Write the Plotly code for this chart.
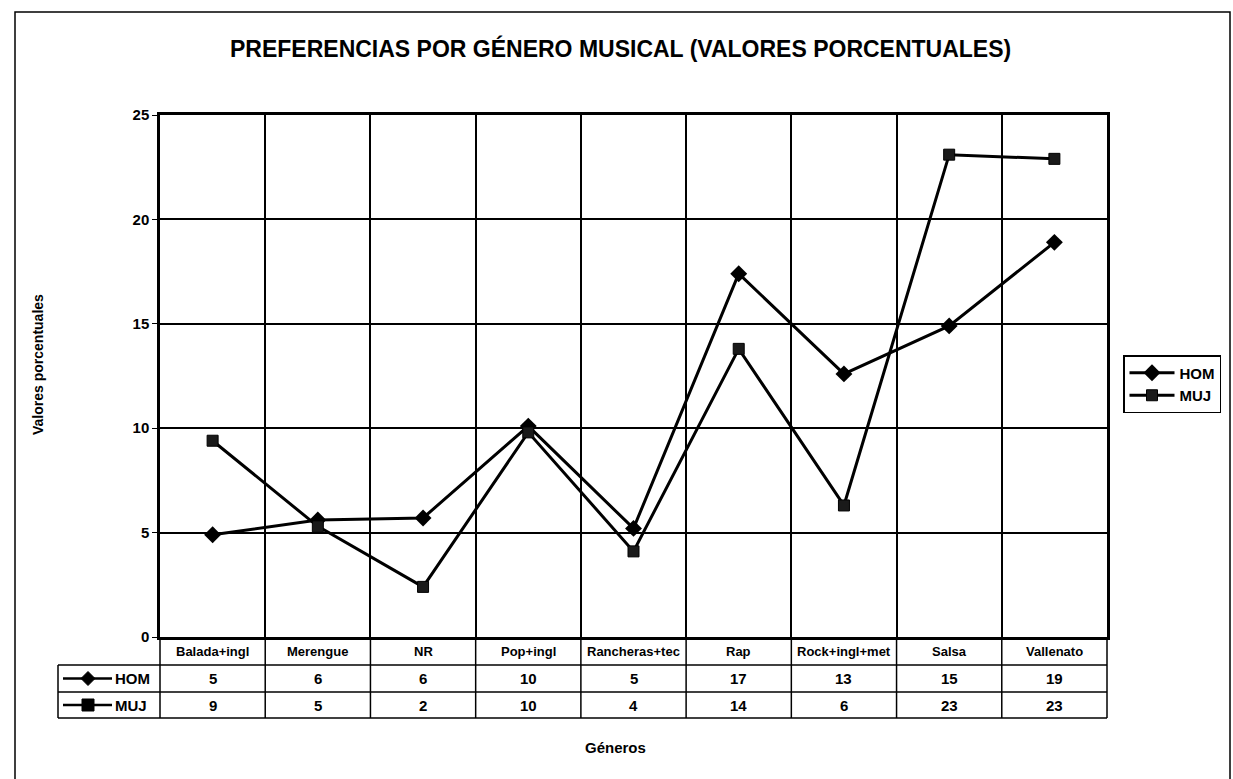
import plotly.graph_objects as go

generos = ["Balada+ingl", "Merengue", "NR", "Pop+ingl", "Rancheras+tec",
           "Rap", "Rock+ingl+met", "Salsa", "Vallenato"]
hom = [4.9, 5.6, 5.7, 10.1, 5.2, 17.4, 12.6, 14.9, 18.9]
muj = [9.4, 5.3, 2.4, 9.8, 4.1, 13.8, 6.3, 23.1, 22.9]
y_ticks = [0, 5, 10, 15, 20, 25]

W, H = 1233, 779
L, R, T, B = 160, 126, 115, 142
PW, PH = W - L - R, H - T - B


def px(x):
    return (x - L) / PW


def py(y):
    return (H - B - y) / PH


FONT = "Liberation Sans, Arial, sans-serif"
NARROW = "Liberation Sans Narrow, Arial Narrow, Liberation Sans, sans-serif"

fig = go.Figure()
fig.add_trace(go.Scatter(
    x=generos, y=hom, name="HOM", mode="lines+markers",
    line=dict(color="black", width=3),
    marker=dict(symbol="diamond", size=13, color="black"),
))
fig.add_trace(go.Scatter(
    x=generos, y=muj, name="MUJ", mode="lines+markers",
    line=dict(color="black", width=3),
    marker=dict(symbol="square", size=11, color="#1a1a1a", line=dict(color="black", width=1)),
))

shapes = []
n = len(generos)
row_y = [637, 665, 692, 718]
# table grid under the plot
for i in range(n + 1):
    shapes.append(dict(type="line", xref="paper", yref="paper",
                       x0=i / n, x1=i / n, y0=py(row_y[0]), y1=py(row_y[-1]),
                       line=dict(color="black", width=1.5)))
for yy in row_y[1:]:
    shapes.append(dict(type="line", xref="paper", yref="paper",
                       x0=px(58), x1=1, y0=py(yy), y1=py(yy),
                       line=dict(color="black", width=1.5)))
shapes.append(dict(type="line", xref="paper", yref="paper",
                   x0=px(58), x1=px(58), y0=py(row_y[1]), y1=py(row_y[-1]),
                   line=dict(color="black", width=1.5)))

# legend keys inside the table
for yy, sym in [((row_y[1] + row_y[2]) / 2, "d"), ((row_y[2] + row_y[3]) / 2, "s")]:
    shapes.append(dict(type="line", xref="paper", yref="paper",
                       x0=px(63), x1=px(112), y0=py(yy), y1=py(yy),
                       line=dict(color="black", width=2.5)))
    cx, cy = 88, yy
    if sym == "d":
        path = (f"M {px(cx - 7)},{py(cy)} L {px(cx)},{py(cy - 7)} "
                f"L {px(cx + 7)},{py(cy)} L {px(cx)},{py(cy + 7)} Z")
    else:
        path = (f"M {px(cx - 6)},{py(cy - 6)} L {px(cx + 6)},{py(cy - 6)} "
                f"L {px(cx + 6)},{py(cy + 6)} L {px(cx - 6)},{py(cy + 6)} Z")
    shapes.append(dict(type="path", xref="paper", yref="paper", path=path,
                       fillcolor="black", line=dict(color="black", width=1)))

# outer chart border
shapes.append(dict(type="rect", xref="paper", yref="paper",
                   x0=px(15), x1=px(1230), y0=py(800), y1=py(12),
                   line=dict(color="black", width=1.5)))

annotations = []
mid = [(row_y[k] + row_y[k + 1]) / 2 for k in range(3)]
for g, h, m in zip(generos, hom, muj):
    for yy, txt, sz in [(mid[0], g, 13), (mid[1], f"{h:.0f}", 15), (mid[2], f"{m:.0f}", 15)]:
        annotations.append(dict(x=g, xref="x", y=py(yy), yref="paper",
                                xanchor="center", yanchor="middle",
                                text=f"<b>{txt}</b>", showarrow=False,
                                font=dict(family=NARROW, size=sz, color="black")))
for name, yy in [("HOM", mid[1]), ("MUJ", mid[2])]:
    annotations.append(dict(x=px(113), xref="paper", y=py(yy), yref="paper",
                            xanchor="left", yanchor="middle",
                            text=f"<b>{name}</b>", showarrow=False,
                            font=dict(family=NARROW, size=15, color="black")))

annotations += [
    dict(x=px(620), y=py(48), xref="paper", yref="paper", showarrow=False,
         xanchor="center", yanchor="middle",
         text="<b>PREFERENCIAS POR GÉNERO MUSICAL (VALORES PORCENTUALES)</b>",
         font=dict(family=FONT, size=23, color="black")),
    dict(x=px(38), y=py(365), xref="paper", yref="paper", showarrow=False, textangle=-90,
         xanchor="center", yanchor="middle",
         text="<b>Valores porcentuales</b>", font=dict(family=FONT, size=14, color="black")),
    dict(x=px(615), y=py(747), xref="paper", yref="paper", showarrow=False,
         xanchor="center", yanchor="middle",
         text="<b>Géneros</b>", font=dict(family=FONT, size=15, color="black")),
]

fig.update_layout(
    width=W, height=H,
    margin=dict(l=L, r=R, t=T, b=B),
    paper_bgcolor="white", plot_bgcolor="white",
    font=dict(family=FONT, color="black"),
    shapes=shapes, annotations=annotations,
    legend=dict(x=px(1123), y=py(355), xanchor="left", yanchor="top",
                bordercolor="black", borderwidth=1.5, bgcolor="white",
                font=dict(family=NARROW, size=15, color="black", weight="bold"),
                tracegroupgap=0, itemwidth=45),
    xaxis=dict(type="category", range=[-0.5, n - 0.5], tickson="boundaries",
               showgrid=True, gridcolor="black", gridwidth=1.5,
               showticklabels=False, ticks="",
               showline=True, linecolor="black", linewidth=2.5, mirror=True, zeroline=False),
    yaxis=dict(range=[0, 25], tickvals=y_ticks, ticktext=[f"<b>{v}</b>" for v in y_ticks],
               showgrid=True, gridcolor="black", gridwidth=1.5,
               ticks="outside", ticklen=5, tickcolor="black",
               tickfont=dict(family=FONT, size=15, color="black"),
               showline=True, linecolor="black", linewidth=2.5, mirror=True, zeroline=False),
)

fig.write_html("out.html", config={"displayModeBar": False},
               post_script="document.body.style.margin='0';")
